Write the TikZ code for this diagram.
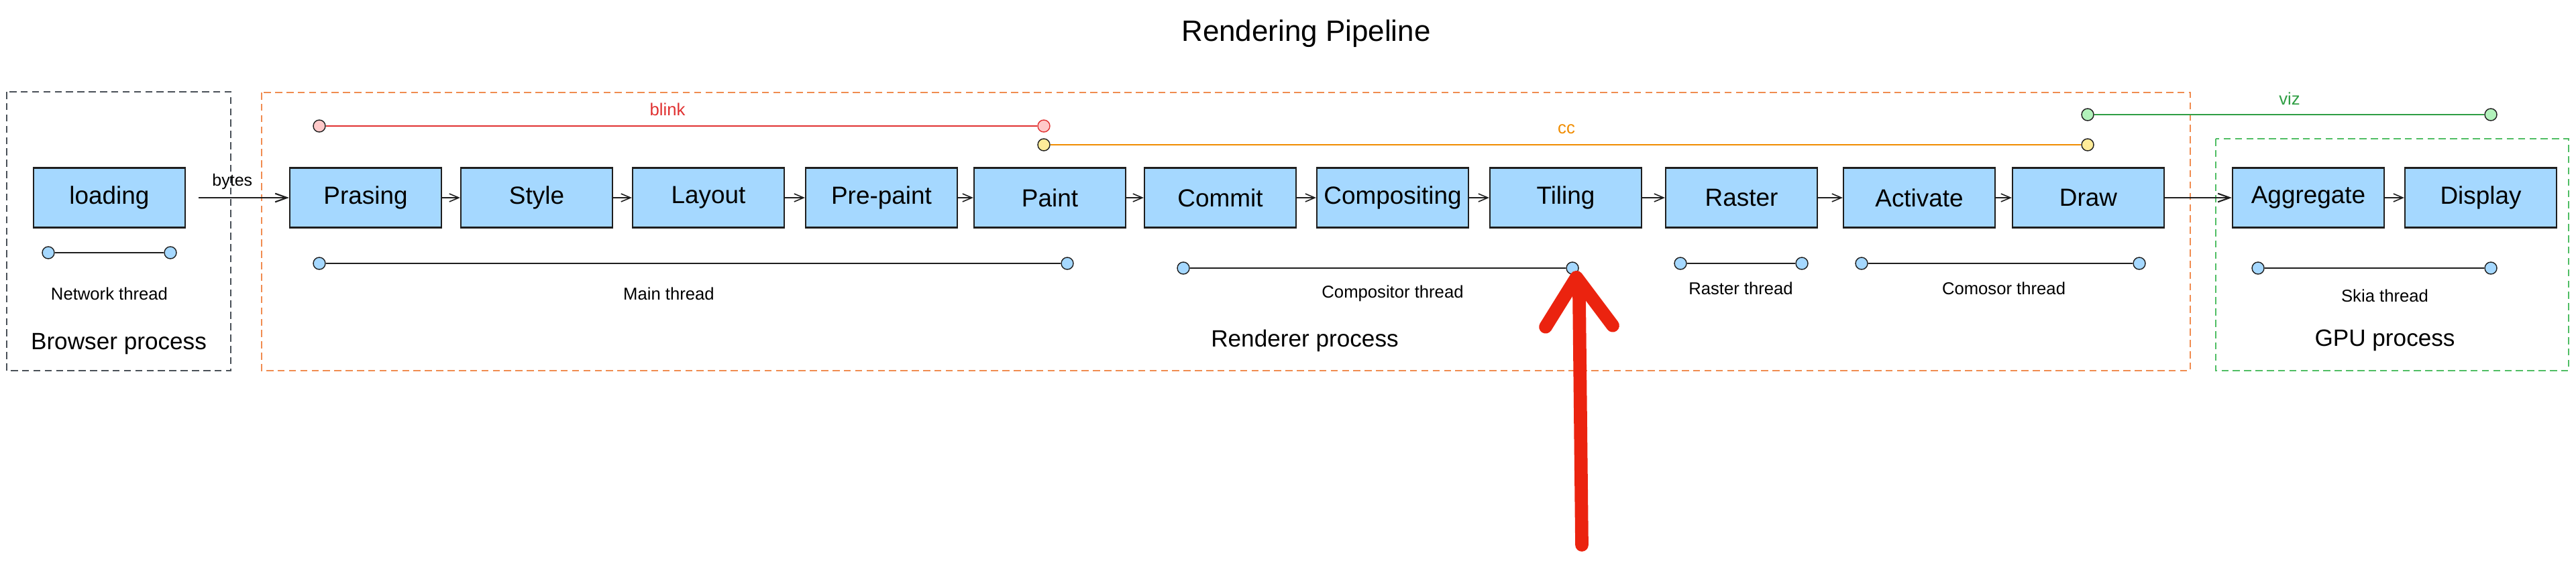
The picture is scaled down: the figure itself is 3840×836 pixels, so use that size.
\documentclass[tikz,border=0pt]{standalone}
\usepackage{fontspec}
\setmainfont{Liberation Sans}
\usetikzlibrary{arrows.meta,calc}

\definecolor{boxblue}{HTML}{A5D8FF}
\definecolor{inkgray}{HTML}{1E1E1E}
\definecolor{blinkred}{HTML}{E03131}
\definecolor{ccorange}{HTML}{F08C00}
\definecolor{vizgreen}{HTML}{2F9E44}
\definecolor{pinkdot}{HTML}{FFC9C9}
\definecolor{yellowdot}{HTML}{FFEC99}
\definecolor{greendot}{HTML}{B2F2BB}
\definecolor{rendframe}{RGB}{240,140,80}
\definecolor{gpuframe}{RGB}{80,190,100}
\definecolor{brframe}{RGB}{73,80,87}
\definecolor{penred}{RGB}{235,35,15}

\tikzset{
  stage/.style={draw=inkgray, fill=boxblue, line width=0.6pt, minimum width=2.26cm,
    minimum height=0.89cm, inner sep=0pt, font=\fontsize{10.5}{12}\selectfont},
  flow/.style={draw=inkgray, line width=0.45pt, -{Straight Barb[length=4pt,width=3.4pt]}},
  dot/.style={circle, draw=inkgray, fill=#1, line width=0.4pt, minimum size=0.18cm, inner sep=0pt},
  dot/.default=boxblue,
  thread/.style={draw=inkgray, line width=0.8pt},
  small/.style={font=\fontsize{7.3}{9}\selectfont},
  proc/.style={font=\fontsize{10}{12}\selectfont},
  frame/.style={dash pattern=on 3pt off 1.8pt, line width=0.5pt},
  redmark/.style={draw=penred, line width=5.6pt, line cap=round, line join=round},
}

\begin{document}
\begin{tikzpicture}[x=0.01cm, y=-0.01cm]
\useasboundingbox (0,0) rectangle (3840,836);

\node[font=\fontsize{12.5}{15}\selectfont] (title) at (1947,50) {Rendering Pipeline};

% process frames
\draw[frame, brframe] (10,137) rectangle (344,553);
\draw[frame, rendframe] (390,138) rectangle (3265,553);
\draw[frame, gpuframe] (3303,207) rectangle (3829,553);
\node[proc] (browserp) at (177,513) {Browser process};
\node[proc] (rendererp) at (1945,508) {Renderer process};
\node[proc] (gpup) at (3555,508) {GPU process};

% stages
\foreach \name/\x/\txt in {loading/163/loading, prasing/545/Prasing, style/800/Style,
  layout/1056/Layout, prepaint/1314/Pre-paint, paint/1565/Paint, commit/1819/Commit,
  compositing/2076/Compositing, tiling/2334/Tiling, raster/2596/Raster,
  activate/2861/Activate, drawst/3113/Draw, aggregate/3441/Aggregate, display/3698/Display}{
  \node[stage] (\name) at (\x,295) {\txt};
}
\draw[flow, line width=0.6pt, -{Straight Barb[length=5pt,width=3.6pt]}, shorten <=0.19cm]
  (loading) -- node[above, pos=0.45, small, font=\fontsize{7.1}{9}\selectfont] (bytes) {bytes} (prasing);
\foreach \a/\b in {prasing/style, style/layout, layout/prepaint, prepaint/paint, paint/commit,
  commit/compositing, compositing/tiling, tiling/raster, raster/activate, activate/drawst,
  aggregate/display}{
  \draw[flow] (\a) -- (\b);
}
\draw[flow, line width=0.6pt, -{Straight Barb[length=5pt,width=3.6pt]}] (drawst) -- (aggregate);

% threads
\foreach \n/\xa/\xb/\y in {net/72/254/377, main/476/1591/393, comp/1764/2344/400,
  rast/2505/2686/393, cmso/2775/3189/393, skia/3366/3713/400}{
  \node[dot] (\n1) at (\xa,\y) {};
  \node[dot] (\n2) at (\xb,\y) {};
  \draw[thread] (\n1) -- (\n2);
}
\node[small] (netlbl) at (163,438) {Network thread};
\node[small] (mainlbl) at (997,438) {Main thread};
\node[small] (complbl) at (2076,438) {Compositor thread};
\node[small] (rastlbl) at (2595,430) {Raster thread};
\node[small] (cmsolbl) at (2987,430) {Comosor thread};
\node[small] (skialbl) at (3555,441) {Skia thread};

% code owners
\node[dot=pinkdot] (blink1) at (476,188) {};
\node[dot=pinkdot, draw=blinkred] (blink2) at (1556,188) {};
\draw[blinkred, line width=0.8pt] (blink1) -- (blink2);
\node[small, text=blinkred] (blinklbl) at (995,163) {blink};

\node[dot=yellowdot] (cc1) at (1556,216) {};
\node[dot=yellowdot] (cc2) at (3112,216) {};
\draw[ccorange, line width=0.8pt] (cc1) -- (cc2);
\node[small, text=ccorange] (cclbl) at (2335,193) {cc};

\node[dot=greendot] (viz1) at (3112,171) {};
\node[dot=greendot] (viz2) at (3713,171) {};
\draw[vizgreen, line width=0.8pt] (viz1) -- (viz2);
\node[small, text=vizgreen] (vizlbl) at (3413,147) {viz};

% hand drawn pointer
\coordinate (markbase) at (2358,813);
\draw[redmark] (markbase) -- ($(comp2.south)+(10,30)$);
\draw[redmark] ($(comp2.south)+(-40,78)$) -- ($(comp2.south)+(6,4)$) -- ($(comp2.south)+(60,76)$);
\end{tikzpicture}
\end{document}
